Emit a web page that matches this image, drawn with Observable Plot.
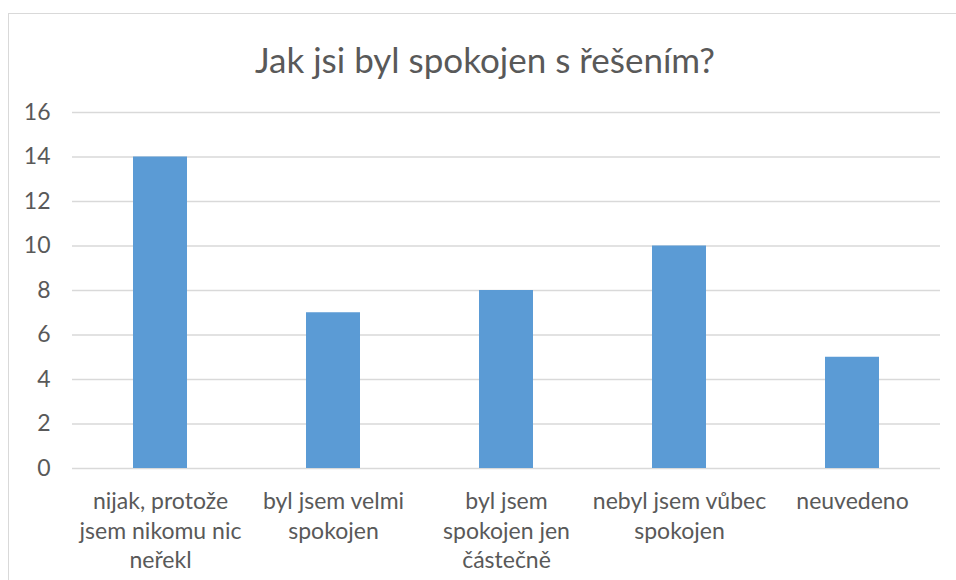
<!DOCTYPE html>
<html>
<head>
<meta charset="utf-8">
<script src="https://cdn.jsdelivr.net/npm/d3@7"></script>
<script src="https://cdn.jsdelivr.net/npm/@observablehq/plot@0.6"></script>
<style>
  html, body { margin: 0; padding: 0; background: #fff; width: 956px; height: 580px; overflow: hidden; }
  #frame { position: absolute; left: 8px; top: 13px; width: 1100px; height: 700px; border: 1px solid #d9d9d9; box-sizing: border-box; }
  #title { position: absolute; left: 0; top: 38px; width: 970px; text-align: center; font-family: Lato, sans-serif; font-size: 35px; color: #595959; line-height: 42px; }
  #chart { position: absolute; left: 0; top: 85px; }
</style>
</head>
<body>
<div id="frame"></div>
<div id="title">Jak jsi byl spokojen s řešením?</div>
<div id="chart"></div>
<script>
const categories = [
  "nijak, protože jsem nikomu nic neřekl",
  "byl jsem velmi spokojen",
  "byl jsem spokojen jen částečně",
  "nebyl jsem vůbec spokojen",
  "neuvedeno"
];
const tickLabels = [
  "nijak, protože\njsem nikomu nic\nneřekl",
  "byl jsem velmi\nspokojen",
  "byl jsem\nspokojen jen\nčástečně",
  "nebyl jsem vůbec\nspokojen",
  "neuvedeno"
];
const values = [14, 7, 8, 10, 5];
const yTicks = [0, 2, 4, 6, 8, 10, 12, 14, 16];

const data = categories.map((c, i) => ({category: c, value: values[i]}));
const labelOf = new Map(categories.map((c, i) => [c, tickLabels[i]]));

const plot = Plot.plot({
  width: 956,
  height: 495,
  marginLeft: 72,
  marginRight: 16,
  marginTop: 27,
  marginBottom: 112,
  style: {fontFamily: "Lato, sans-serif", color: "#595959", background: "transparent"},
  x: {domain: categories, paddingInner: 0.689, paddingOuter: 0.3445, align: 0.5},
  y: {domain: [0, 16], ticks: yTicks},
  marks: [
    Plot.ruleY(yTicks, {stroke: "#d9d9d9", strokeWidth: 1.3}),
    Plot.barY(data, {x: "category", y: "value", fill: "#5B9BD5"}),
    Plot.axisY({ticks: yTicks, tickSize: 0, tickPadding: 22, fontSize: 23, fill: "#595959", label: null}),
    Plot.axisX({tickSize: 0, tickPadding: 20, fontSize: 23, fill: "#595959", label: null, lineHeight: 1.28, tickFormat: d => labelOf.get(d)})
  ]
});
document.getElementById("chart").appendChild(plot);
</script>
</body>
</html>
